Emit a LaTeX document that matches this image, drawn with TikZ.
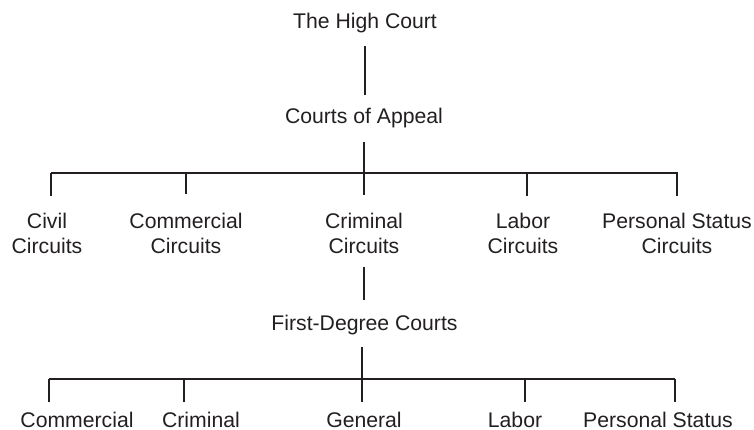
\documentclass[tikz,border=0pt]{standalone}
\usepackage{fontspec}
\setmainfont{Liberation Sans}
\usetikzlibrary{calc}
\definecolor{ink}{HTML}{231F20}
\begin{document}
\begin{tikzpicture}[x=0.5pt,y=-0.5pt,
  every node/.style={inner sep=0pt,outer sep=0pt,text=ink,
    font=\fontsize{10.6}{12.5}\selectfont,align=center},
  link/.style={draw=ink,line width=0.6pt},
  lbl/.style={anchor=base},
  lbl2/.style={anchor=north}]
\useasboundingbox (0,0) rectangle (754,429);

% court levels
\node[lbl] (hc)  at (365,28)  {The High Court};
\node[lbl] (coa) at (364,123) {Courts of Appeal};

\node[lbl2] (civ) at (47,213)  {Civil\\Circuits};
\node[lbl2] (com) at (186,213) {Commercial\\Circuits};
\node[lbl2] (cri) at (364,213) {Criminal\\Circuits};
\node[lbl2] (lab) at (523,213) {Labor\\Circuits};
\node[lbl2] (per) at (677,213) {Personal Status\\Circuits};

\node[lbl] (fdc) at (364.5,330) {First-Degree Courts};

\node[lbl] (fcom) at (77,427)  {Commercial};
\node[lbl] (fcri) at (201,427) {Criminal};
\node[lbl] (fgen) at (364,427) {General};
\node[lbl] (flab) at (515,427) {Labor};
\node[lbl] (fper) at (658,427) {Personal Status};

% branching bars
\coordinate (ja) at (364,173);
\coordinate (jl) at (51,173);
\coordinate (jr) at (678,173);
\coordinate (d1) at (51,173);
\coordinate (d2) at (186,173);
\coordinate (d3) at (364,173);
\coordinate (d4) at (527,173);
\coordinate (d5) at (677,173);

\coordinate (ka) at (362,379);
\coordinate (kl) at (49,379);
\coordinate (kr) at (675,379);
\coordinate (e1) at (49,379);
\coordinate (e2) at (184,379);
\coordinate (e3) at (362,379);
\coordinate (e4) at (525,379);
\coordinate (e5) at (675,379);

% connectors
\draw[link,shorten <=6.75pt,shorten >=6.25pt] (hc.south) -- (hc.south |- coa.north);
\draw[link,shorten <=7.25pt] (coa.south -| ja) -- (ja);
\draw[link] (jl) -- (jr);
\draw[link,shorten >=8.5pt] (d1) -- (d1 |- civ.north);
\draw[link,shorten >=9.5pt] (d2) -- (d2 |- com.north);
\draw[link,shorten >=9pt]   (d3) -- (d3 |- cri.north);
\draw[link,shorten >=8.5pt] (d4) -- (d4 |- lab.north);
\draw[link,shorten >=8.5pt] (d5) -- (d5 |- per.north);

\draw[link,shorten <=6.5pt,shorten >=7.5pt] (cri.south) -- (cri.south |- fdc.north);
\draw[link,shorten <=6.25pt] (fdc.south -| ka) -- (ka);
\draw[link] (kl) -- (kr);
\draw[link,shorten >=5pt] (e1) -- (e1 |- fcom.north);
\draw[link,shorten >=5pt] (e2) -- (e2 |- fcri.north);
\draw[link,shorten >=5pt] (e3) -- (e3 |- fgen.north);
\draw[link,shorten >=5pt] (e4) -- (e4 |- flab.north);
\draw[link,shorten >=5pt] (e5) -- (e5 |- fper.north);
\end{tikzpicture}
\end{document}
